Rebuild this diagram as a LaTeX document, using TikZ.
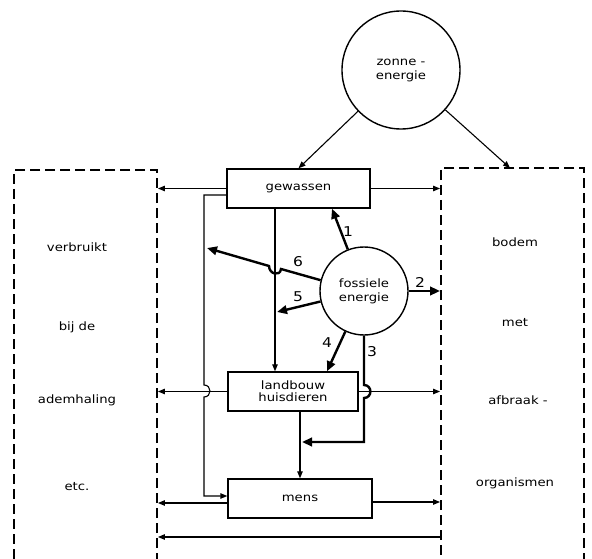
\documentclass[tikz,border=0pt]{standalone}
\usepackage{fontspec}
\setmainfont{DejaVu Sans}[FakeStretch=1.15]
\usetikzlibrary{arrows.meta,calc}
\begin{document}
\begin{tikzpicture}[x=1pt,y=-1pt,
  flow/.style={line width=1.1pt,-{Triangle[length=7pt,width=5.5pt]}},
  fuel/.style={line width=2.4pt,-{Triangle[length=10pt,width=8.5pt]}},
  procbox/.style={draw,line width=1.4pt,minimum height=39pt,inner sep=0pt,align=center,font=\fontsize{11.5}{12}\selectfont},
  src/.style={draw,circle,line width=1.4pt,inner sep=0pt,align=center,font=\fontsize{11.5}{14}\selectfont},
  sink/.style={draw,dash pattern=on 10pt off 5pt,line width=1.9pt,minimum width=143pt,inner sep=0pt},
  txt/.style={font=\fontsize{11.5}{12}\selectfont,inner sep=0pt},
  num/.style={font=\fontsize{13.5}{14}\selectfont,inner sep=0pt}]
\useasboundingbox (0,0) rectangle (592,559);
\clip (0,0) rectangle (592,559);
% sinks
\node[sink,minimum height=460pt] (L) at (85.5,400) {};
\node[sink,minimum height=462pt] (R) at (512.5,399) {};
% sources and boxes
\node[src,minimum size=118pt] (zonne) at (401,70) {zonne -\\energie};
\node[src,minimum size=88pt] (foss) at (364,291) {fossiele\\energie};
\node[procbox,minimum width=143pt] (gew) at (298.5,188.5) {gewassen};
\node[procbox,minimum width=130pt] (land) at (293,391.5) {landbouw\\huisdieren};
\node[procbox,minimum width=144pt] (mens) at (300,498.5) {mens};
% texts in sinks
\node[txt] (l1) at (77,247) {verbruikt};
\node[txt] (l2) at (77,327) {bij de};
\node[txt] (l3) at (77,400) {ademhaling};
\node[txt] (l4) at (77,487) {etc.};
\node[txt] (r1) at (515,242) {bodem};
\node[txt] (r2) at (515,323) {met};
\node[txt] (r3) at (518,400) {afbraak -};
\node[txt] (r4) at (515,483) {organismen};
% coordinates
\coordinate (rtop) at (510,168);
\coordinate (bot) at (441,537);
\coordinate (t5) at (277,312);
\coordinate (t6) at (207,248);
% solar flows
\draw[flow] (zonne) -- (gew.north);
\draw[flow] (zonne) -- (rtop);
% gewassen flows
\draw[flow] (gew.west) -- (gew.west -| L.east);
\draw[flow] (gew.east) -- (gew.east -| R.west);
\draw[flow] ([xshift=-23.5pt]gew.south) -- ([xshift=-23.5pt]gew.south |- land.north);
\draw[flow] ([yshift=-6.5pt]gew.west) -- (204,195) -- (204,385)
  .. controls (212,385) and (212,397) .. (204,397) -- (204,496) -- ([yshift=2.5pt]mens.west);
% landbouw flows
\draw[flow] (land.west) -- (land.west -| L.east);
\draw[flow] (land.east) -- (land.east -| R.west);
\draw[flow] (land.south -| mens.north) -- (mens.north);
% mens flows
\draw[flow] ([yshift=-4.5pt]mens.west) -- ([yshift=-4.5pt]mens.west -| L.east);
\draw[flow] ([yshift=-3.5pt]mens.east) -- ([yshift=-3.5pt]mens.east -| R.west);
\draw[flow] (bot) -- (bot -| L.east);
% fossil flows
\draw[fuel] (foss) -- ([xshift=33.5pt]gew.south);
\draw[fuel] (foss.east) -- (foss.east -| R.west);
\draw[fuel] (foss) -- ([xshift=34pt]land.north);
\draw[fuel] (foss) -- (t5);
\draw[fuel] (foss.166) -- (281,269) .. controls (280,277) and (269,274) .. (269,266) -- (t6);
\draw[fuel] (foss.south) -- (364,385) .. controls (372.5,385) and (372.5,398) .. (364,398)
  -- (364,442) -- (302,442);
% labels
\node[num] (n1) at (348,232) {1};
\node[num] (n2) at (420,282) {2};
\node[num] (n3) at (372,352) {3};
\node[num] (n4) at (327,343) {4};
\node[num] (n5) at (298,297) {5};
\node[num] (n6) at (298,262) {6};
\end{tikzpicture}
\end{document}
